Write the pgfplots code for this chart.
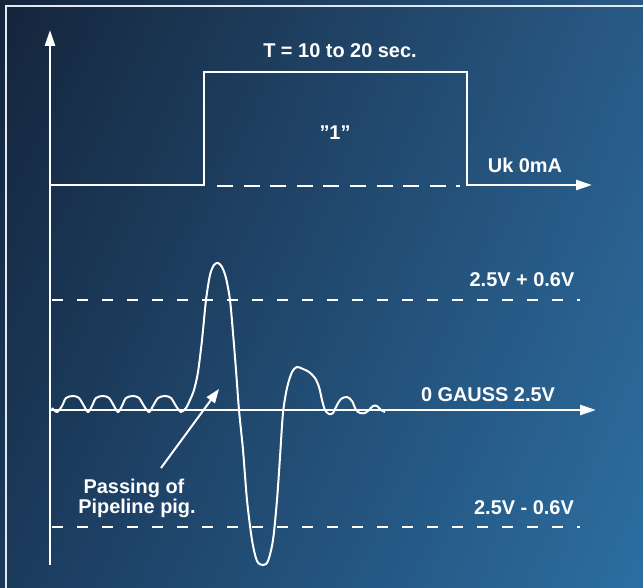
\documentclass[border=0pt]{standalone}
\usepackage{fontspec}
\setmainfont{Liberation Sans}
\usepackage{pgfplots}
\pgfplotsset{compat=1.18}
\usetikzlibrary{arrows.meta,shadings}

\definecolor{bgUL}{HTML}{14243A}
\definecolor{bgUR}{HTML}{295A86}
\definecolor{bgLL}{HTML}{1B3A5C}
\definecolor{bgLR}{HTML}{2C6FA2}
\definecolor{frame}{HTML}{E2E8EF}

\tikzset{lbl/.style={font=\bfseries\fontsize{20}{22}\selectfont, text=white, inner sep=0pt, anchor=base}}

\begin{document}
\begin{tikzpicture}
\begin{axis}[
  scale only axis,
  width=643bp, height=588bp,
  xmin=0, xmax=643, ymin=0, ymax=588,
  y dir=reverse,
  hide axis,
  clip=false,
  set layers,
]
% background (oversized; the page is cut to the axis box below)
\begin{pgfonlayer}{axis background}
\shade[upper left=bgUL, upper right=bgUR, lower left=bgLL, lower right=bgLR]
  (axis cs:-6,-6) rectangle (axis cs:649,594);
\draw[frame, line width=2.5bp] (axis cs:6,594) -- (axis cs:6,6) -- (axis cs:649,6);
\end{pgfonlayer}

% vertical axis
\addplot[white, line width=2.5bp, -{Triangle[length=16bp,width=10bp]}]
  coordinates {(50,565) (50,30)};

% pulse
\addplot[white, line width=2.5bp, -{Triangle[length=16bp,width=10bp]}]
  coordinates {(50,185) (204,185) (204,72) (467,72) (467,185) (592,185)};
\addplot[white, line width=2.5bp, dash pattern=on 16bp off 10.6bp]
  coordinates {(217,186) (460,186)};

% signal axis and limits
\addplot[white, line width=2.5bp, -{Triangle[length=16bp,width=10bp]}]
  coordinates {(50,410) (596,410)};
\addplot[white, line width=2.2bp, dash pattern=on 11bp off 14bp]
  coordinates {(52,300) (580,300)};
\addplot[white, line width=2.2bp, dash pattern=on 11bp off 14bp]
  coordinates {(52,527) (580,527)};

% sensor signal
\addplot[white, line width=2bp, smooth, tension=0.5] coordinates {
(52,408) (57,412) (62,406) (66,398) (73,396) (79,398) (84,406) (88,412)
(92,406) (96,398) (103,396) (109,398) (114,406) (118,412)
(122,406) (126,398) (133,396) (139,398) (144,406) (149,412)
(153,406) (158,398) (165,396) (171,398) (176,406) (181,412)
(186,408) (190,400) (194,390) (198,372) (202,340) (206,300) (210,275) (214,265)
(218,263) (222,267) (226,278) (230,300) (233,333) (236,370) (239,410) (243,450)
(247,500) (252,540) (257,561) (263,565) (268,561) (273,540) (277,500) (280,457)
(283,413) (287,388) (292,372) (297,367) (303,369) (309,372) (315,378) (319,387)
(322,400) (325,410) (329,414) (333,413) (337,405) (341,399) (347,397) (352,401)
(356,410) (360,413) (365,413) (369,410) (373,406) (377,406) (381,410) (385,412)
};

% pointer
\addplot[white, line width=2bp, -{Triangle[length=14bp,width=10bp]}]
  coordinates {(161,468) (219,389)};

% labels
\node[lbl] at (axis cs:340,58) {T = 10 to 20 sec.};
\node[lbl] at (axis cs:335,140) {”1”};
\node[lbl] at (axis cs:525,173) {Uk 0mA};
\node[lbl] at (axis cs:522,287) {2.5V + 0.6V};
\node[lbl] at (axis cs:488,402) {0 GAUSS 2.5V};
\node[lbl] at (axis cs:524,515) {2.5V - 0.6V};
\node[lbl] at (axis cs:134,494) {Passing of};
\node[lbl] at (axis cs:137,514) {Pipeline pig.};
\end{axis}
\pgfresetboundingbox
\path[use as bounding box] (current axis.south west) rectangle (current axis.north east);
\end{tikzpicture}
\end{document}
